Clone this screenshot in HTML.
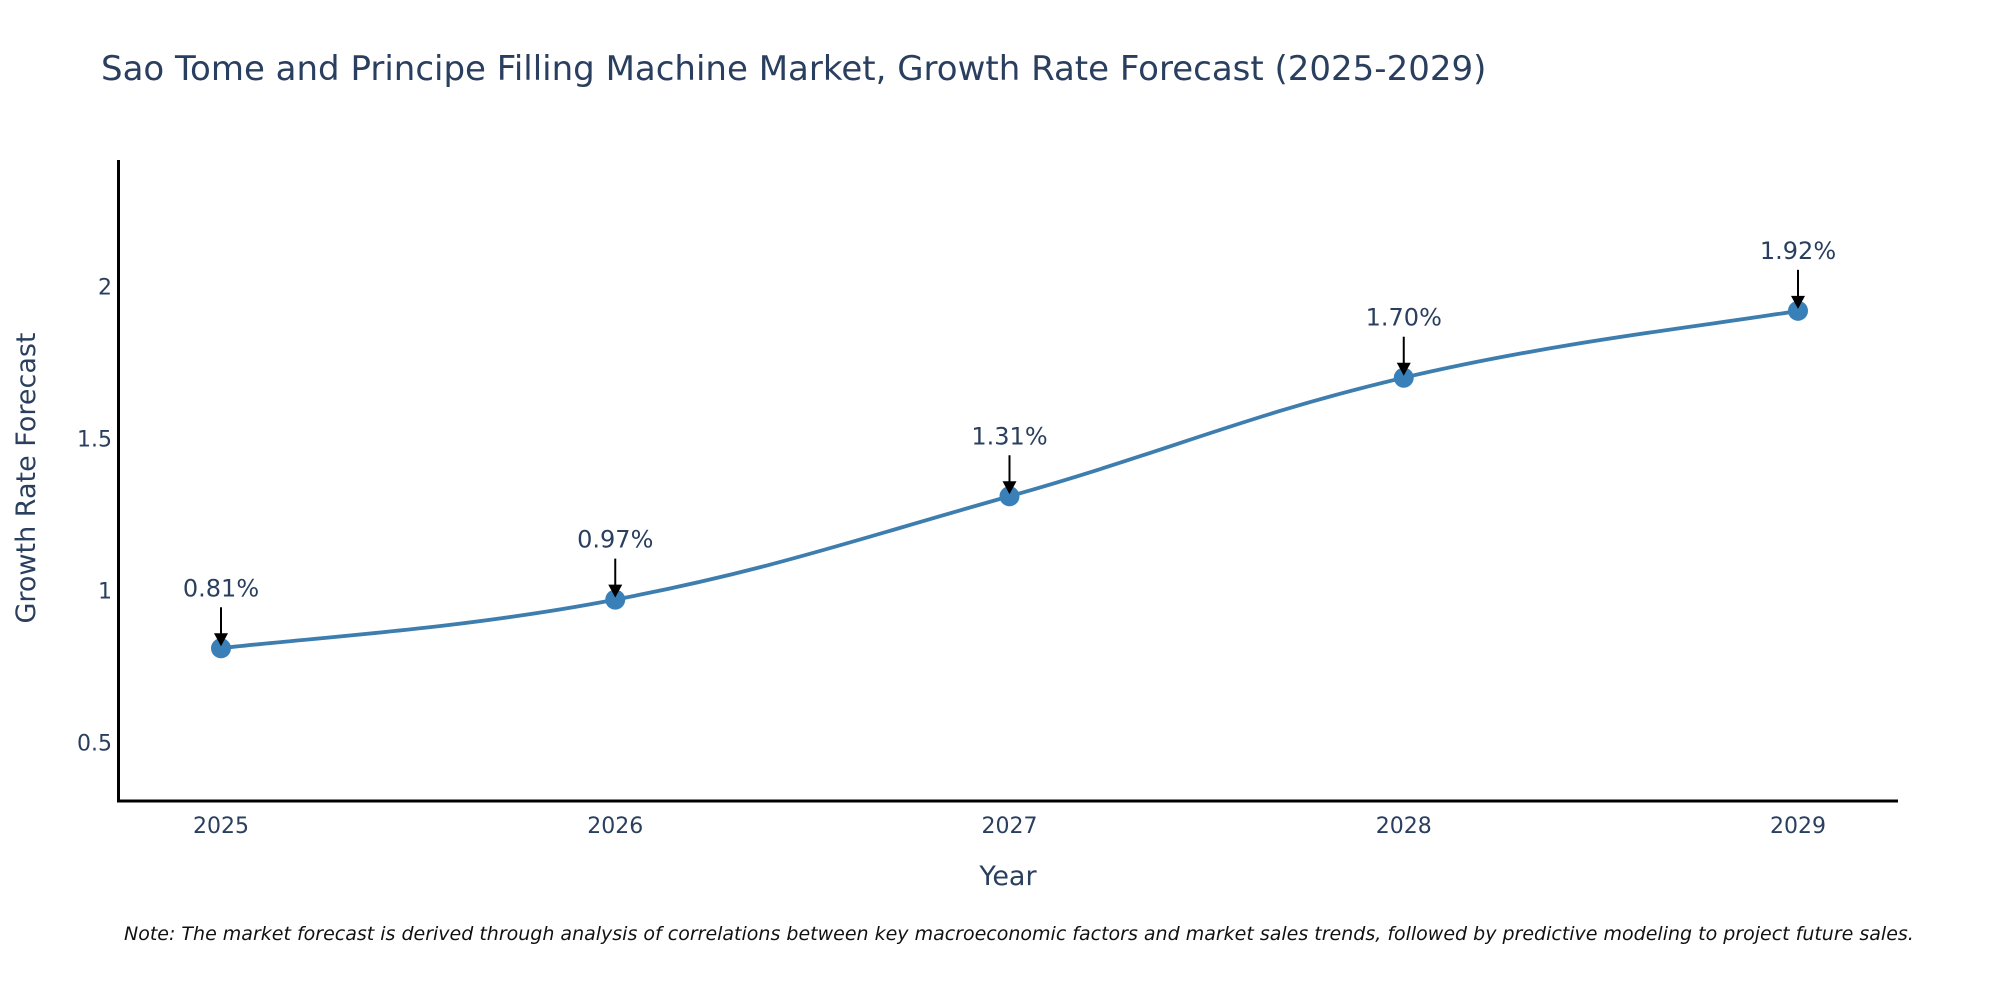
<!DOCTYPE html>
<html><head><meta charset="utf-8">
<style>
body{margin:0;background:#fff;}
svg{display:block;font-family:"DejaVu Sans","Liberation Sans",sans-serif;}
</style></head>
<body>
<svg id="chart" width="2000" height="1000" viewBox="0 0 2000 1000">
<text x="101" y="80" font-size="34" fill="#2a3f5f">Sao Tome and Principe Filling Machine Market, Growth Rate Forecast (2025-2029)</text>
<g id="yticks"></g>
<g id="xticks"></g>
<path id="line" fill="none" stroke="#3d7eae" stroke-width="3.8"></path>
<g id="points"></g>
<g id="annots"></g>
<line x1="118.5" y1="160" x2="118.5" y2="802" stroke="#000" stroke-width="3"/>
<line x1="117" y1="801" x2="1898" y2="801" stroke="#000" stroke-width="3"/>
<text x="1008" y="885" font-size="27" fill="#2a3f5f" text-anchor="middle">Year</text>
<text transform="translate(35,478) rotate(-90)" font-size="27" fill="#2a3f5f" text-anchor="middle">Growth Rate Forecast</text>
<text x="124" y="940" font-size="19" font-style="italic" fill="#111">Note: The market forecast is derived through analysis of correlations between key macroeconomic factors and market sales trends, followed by predictive modeling to project future sales.</text>
</svg>
<script>
const years=["2025","2026","2027","2028","2029"];
const values=[0.81,0.97,1.31,1.70,1.92];
const labels=["0.81%","0.97%","1.31%","1.70%","1.92%"];
const yTicks=[0.5,1,1.5,2];
const NS="http://www.w3.org/2000/svg";
function x(i){return 221+i*(1798-221)/4;}
function y(v){return 590.5-(v-1)*304;}
function mk(tag,attrs,parent){const e=document.createElementNS(NS,tag);for(const k in attrs)e.setAttribute(k,attrs[k]);parent.appendChild(e);return e;}
const yt=document.getElementById('yticks');
yTicks.forEach(t=>{const e=mk('text',{x:112,y:y(t)+8,'font-size':22,fill:'#2a3f5f','text-anchor':'end'},yt);e.textContent=String(t);

});
const xt=document.getElementById('xticks');
years.forEach((yr,i)=>{const e=mk('text',{x:x(i),y:833,'font-size':22,fill:'#2a3f5f','text-anchor':'middle'},xt);e.textContent=yr;

});
const pts=values.map((v,i)=>[x(i),y(v)]);
let d="M"+pts[0][0]+","+pts[0][1];
const s=0.2;
for(let i=0;i<pts.length-1;i++){
 const p0=pts[Math.max(0,i-1)],p1=pts[i],p2=pts[i+1],p3=pts[Math.min(pts.length-1,i+2)];
 const c1=[p1[0]+(p2[0]-p0[0])*s,p1[1]+(p2[1]-p0[1])*s];
 const c2=[p2[0]-(p3[0]-p1[0])*s,p2[1]-(p3[1]-p1[1])*s];
 d+=" C"+c1+" "+c2+" "+p2;
}
document.getElementById('line').setAttribute('d',d);
const pg=document.getElementById('points'),ag=document.getElementById('annots');
pts.forEach((p,i)=>{
 const c=mk('circle',{cx:p[0],cy:p[1],r:10,fill:'#3a80b8'},pg);
 
 
 const l=mk('line',{x1:p[0],y1:p[1]-41,x2:p[0],y2:p[1]-14,stroke:'#000','stroke-width':2},ag);
 
 
 const h=mk('polygon',{points:`${p[0]-7},${p[1]-15} ${p[0]+7},${p[1]-15} ${p[0]},${p[1]-2}`,fill:'#000'},ag);
 
 
 const t=mk('text',{x:p[0],y:p[1]-52,'font-size':24,fill:'#2a3f5f','text-anchor':'middle'},ag);
 t.textContent=labels[i];
 
 
});
</script>
</body></html>
